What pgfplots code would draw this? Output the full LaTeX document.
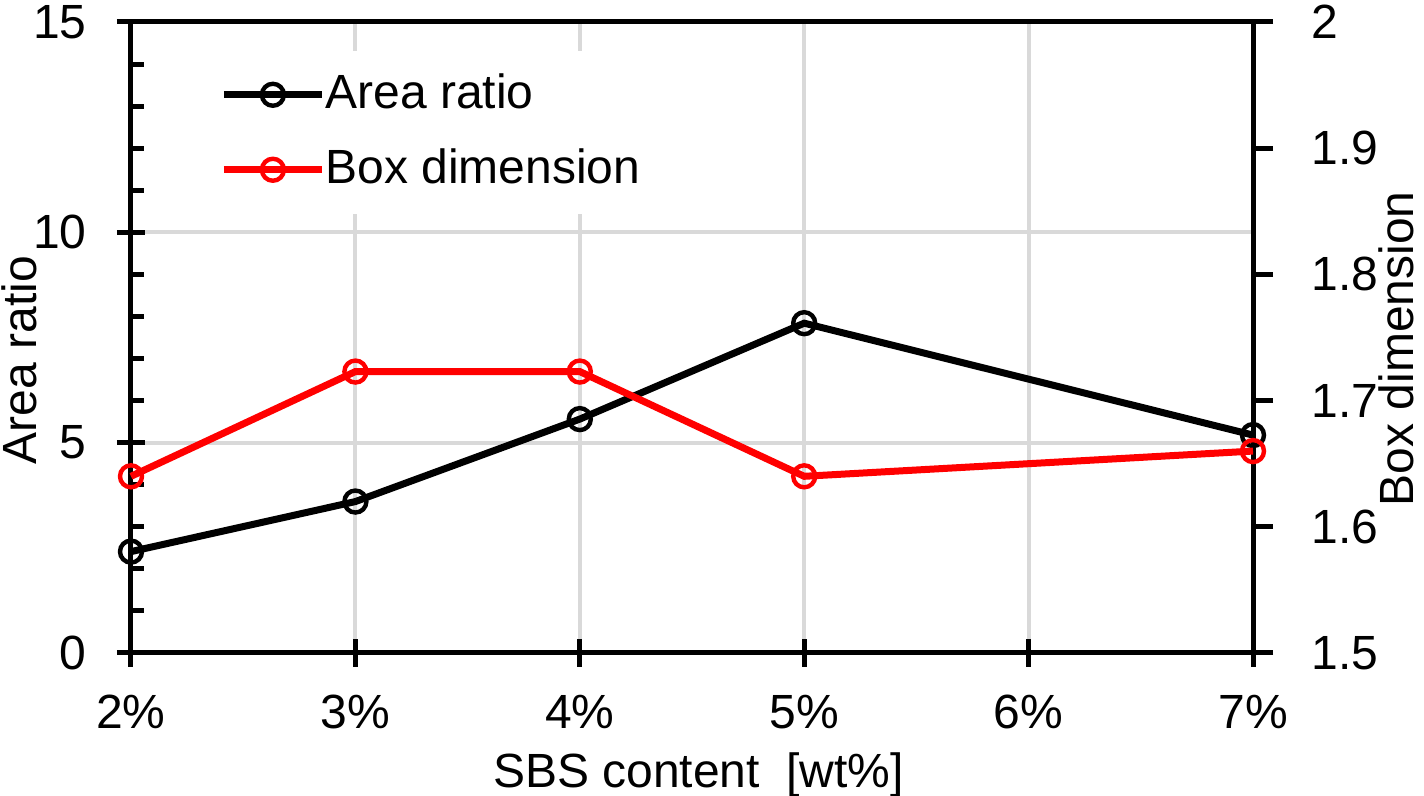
\documentclass[border=0pt]{standalone}
\usepackage{pgfplots}
\pgfplotsset{compat=1.18}
\usepackage{fontspec}
\setmainfont{Liberation Sans}
\definecolor{gridgray}{RGB}{217,217,217}
\definecolor{pred}{RGB}{255,0,0}
\newcommand{\bigf}{\fontsize{24}{28}\selectfont}
\begin{document}
\bigf
\begin{tikzpicture}
\pgfplotsset{
  common/.style={
    scale only axis, width=561pt, height=315.5pt,
    xmin=2, xmax=7, clip=false,
    /pgf/number format/assume math mode=true,
    tick label style={font=\bigf},
    label style={font=\bigf, inner sep=0pt},
    axis line style={line width=2.5pt, -},
    every tick/.style={black, line width=2.5pt},
  },
  legimg/.style={legend image code/.code={
    \draw[mark repeat=2,mark phase=2,##1] plot coordinates {(0pt,0pt) (24.5pt,0pt) (49pt,0pt)};}},
}
\begin{axis}[common, name=ax1,
  axis x line*=bottom, axis y line*=left,
  ymin=0, ymax=15, ytick={0,5,10,15}, minor y tick num=4,
  xtick={2,3,4,5,6,7}, xticklabels={2\%,3\%,4\%,5\%,6\%,7\%},
  tick align=center, major tick length=14pt, minor tick length=6.5pt,
  minor tick style={xshift=3.25pt},
  xmajorgrids, ymajorgrids, grid style={gridgray, line width=2pt},
  xticklabel style={yshift=-6pt},
  yticklabel style={xshift=-7pt},
  xlabel={SBS content\ \ [wt\%]},
  xlabel style={at={(axis description cs:0.5058,-0.2124)}, anchor=base},
  ylabel={Area ratio},
  ylabel style={at={(axis description cs:-0.0838,0.464)}, anchor=south, rotate=0},
  legimg,
  legend style={at={(axis description cs:0.0704,0.955)}, anchor=north west,
    draw=none, fill=white, font=\bigf, inner xsep=5pt, inner ysep=10pt,
    row sep=13.5pt, nodes={inner xsep=0pt, inner ysep=1.5pt}},
  legend cell align=left,
]
\addplot[black, line width=3.5pt, mark=o, mark size=5.5pt, mark options={line width=2.2pt, solid}]
  coordinates {(2,2.41) (3,3.60) (4,5.56) (5,7.84) (7,5.18)};
\addlegendentry{Area ratio}
\addlegendimage{pred, line width=3.5pt, mark=o, mark size=5.5pt, mark options={line width=2.2pt, solid}}
\addlegendentry{Box dimension}
\draw[line width=2.5pt] (rel axis cs:0,1) -- (rel axis cs:1,1);
\end{axis}
\begin{axis}[common,
  axis x line=none, axis y line*=right,
  ymin=1.5, ymax=2, ytick={1.5,1.6,1.7,1.8,1.9,2},
  tick align=outside, major tick length=10pt,
  yticklabel style={xshift=11pt},
  ylabel={Box dimension},
  ylabel style={at={(axis description cs:1.1435,0.482)}, anchor=south, rotate=0},
]
\addplot[pred, line width=3.5pt, mark=o, mark size=5.5pt, mark options={line width=2.2pt, solid}]
  coordinates {(2,1.640) (3,1.723) (4,1.723) (5,1.640) (7,1.660)};
\end{axis}
\pgfresetboundingbox
\path ([shift={(-65.5pt,-71.5pt)}]ax1.south west) rectangle ([shift={(85.5pt,11pt)}]ax1.north east);
\end{tikzpicture}
\end{document}
